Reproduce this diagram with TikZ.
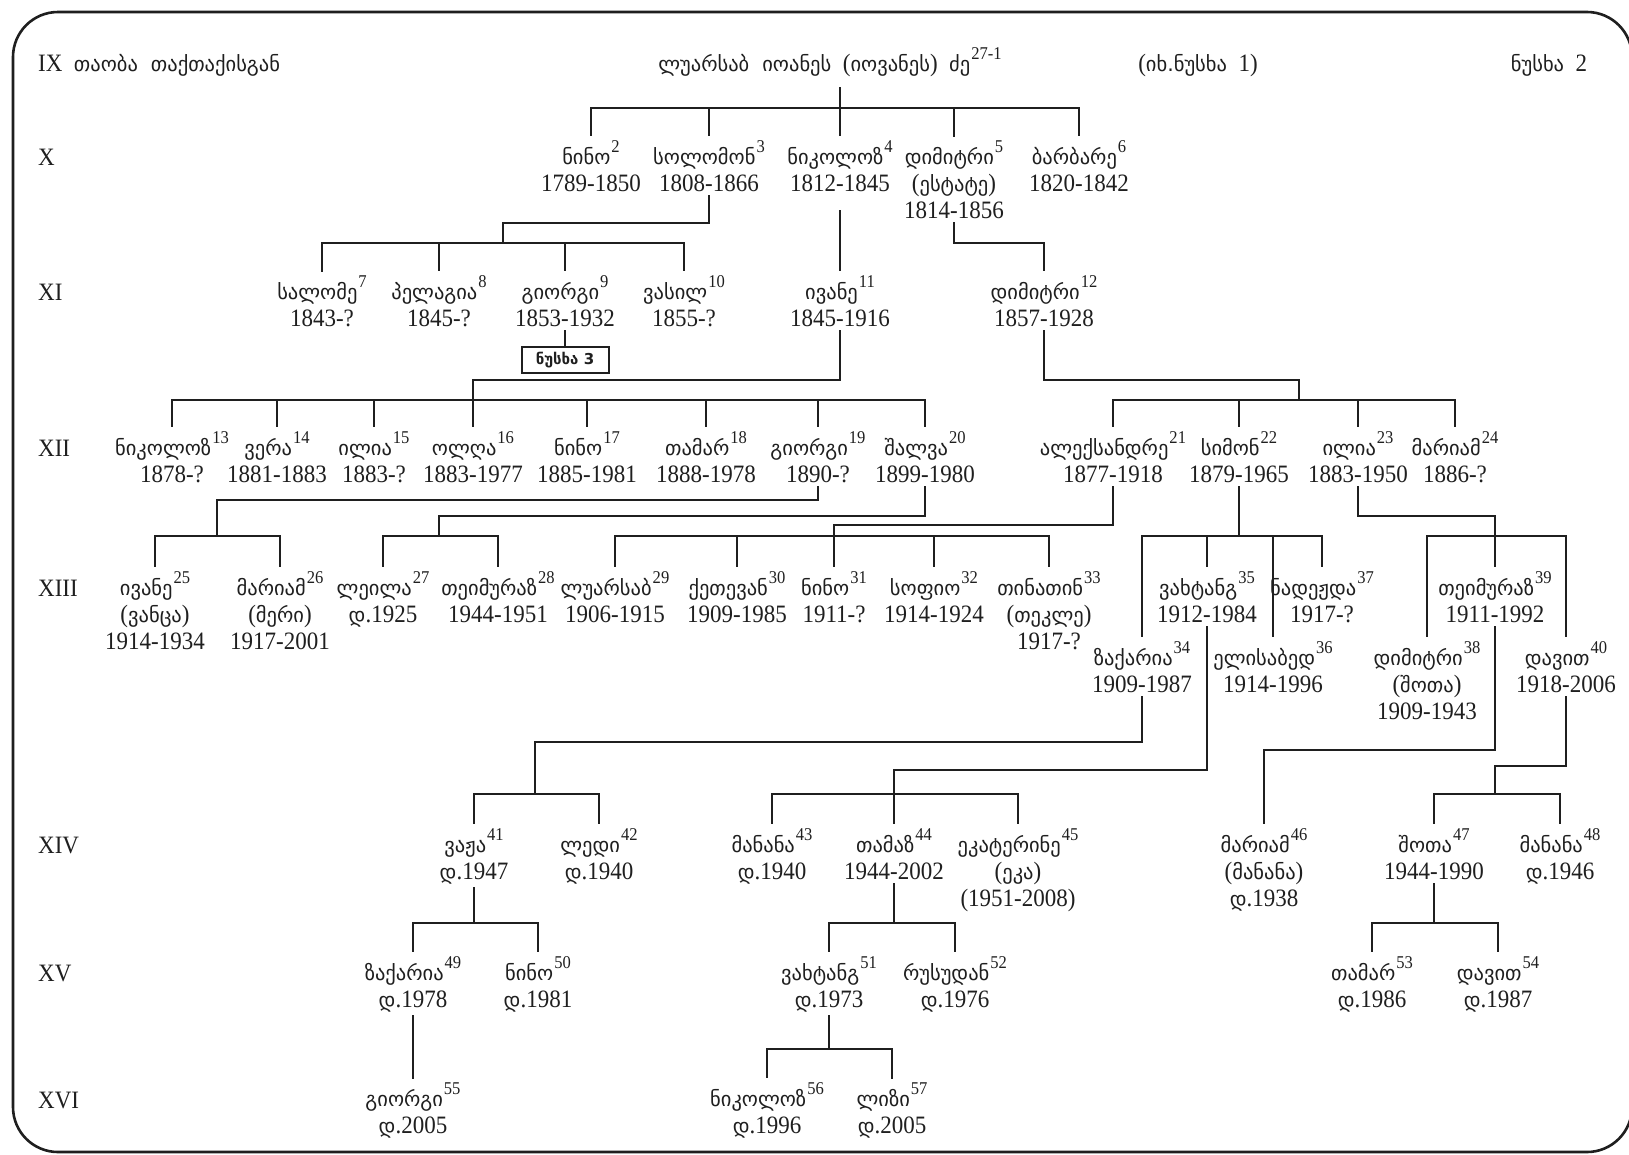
\documentclass[tikz,border=0pt]{standalone}
\usepackage{fontspec}
\setmainfont{Liberation Serif}[FakeStretch=0.92]
\newfontfamily\geo{DejaVu Sans}
\newcommand\g[1]{{\geo\fontsize{20.5}{27}\selectfont #1}}
\newcommand\supn[1]{\kern1pt\raisebox{12pt}{\fontsize{18}{18}\selectfont #1}}
\newcommand\nm[2]{\g{#1}\supn{#2}}
\newcommand\pers[1]{\vtop{\baselineskip=27pt\lineskiplimit=-40pt\halign{\hfil##\hfil\cr#1\cr}}}
\begin{document}
\begin{tikzpicture}[x=1pt,y=-1pt,
  ln/.style={line width=2.6pt,line cap=rect,color=black!88},
  P/.style={inner sep=0pt,outer ysep=5pt,anchor=base,font=\fontsize{25}{27}\selectfont,text=black!88},
  G/.style={inner sep=0pt,anchor=base west,font=\fontsize{25}{27}\selectfont,text=black!88},
  H/.style={inner sep=0pt,anchor=base,font=\fontsize{25}{27}\selectfont,text=black!88}]
\useasboundingbox (0,0) rectangle (1629,1154);
\fill[white] (0,0) rectangle (1629,1154);
\draw[line width=2.6pt,color=black!88,rounded corners=45pt] (13,12) rectangle (1632,1152);

% header
\node[G] (gIX) at (38,71) {IX\ \ \g{თაობა\ \ თაქთაქისგან}};
\node[H] (title) at (830,71) {\g{ლუარსაბ\ \ იოანეს}\ \ (\g{იოვანეს})\ \ \g{ძე}\supn{27-1}};
\node[H] (ref1) at (1198,71) {(\g{იხ.ნუსხა}\ \ 1)};
\node[H] (list2) at (1549,71) {\g{ნუსხა}\ \ 2};

% generation labels
\node[G] (gX) at (38,165) {X};
\node[G] (gXI) at (38,300) {XI};
\node[G] (gXII) at (38,456) {XII};
\node[G] (gXIII) at (38,596) {XIII};
\node[G] (gXIV) at (38,853) {XIV};
\node[G] (gXV) at (38,981) {XV};
\node[G] (gXVI) at (38,1108) {XVI};

% row X
\node[P] (n2) at (591,164) {\pers{\nm{ნინო}{2}\cr 1789-1850}};
\node[P] (n3) at (709,164) {\pers{\nm{სოლომონ}{3}\cr 1808-1866}};
\node[P] (n4) at (840,164) {\pers{\nm{ნიკოლოზ}{4}\cr 1812-1845}};
\node[P] (n5) at (954,164) {\pers{\nm{დიმიტრი}{5}\cr (\g{ესტატე})\cr 1814-1856}};
\node[P] (n6) at (1079,164) {\pers{\nm{ბარბარე}{6}\cr 1820-1842}};

% row XI
\node[P] (n7) at (322,299) {\pers{\nm{სალომე}{7}\cr 1843-?}};
\node[P] (n8) at (439,299) {\pers{\nm{პელაგია}{8}\cr 1845-?}};
\node[P] (n9) at (565,299) {\pers{\nm{გიორგი}{9}\cr 1853-1932}};
\node[P] (n10) at (684,299) {\pers{\nm{ვასილ}{10}\cr 1855-?}};
\node[P] (n11) at (840,299) {\pers{\nm{ივანე}{11}\cr 1845-1916}};
\node[P] (n12) at (1044,299) {\pers{\nm{დიმიტრი}{12}\cr 1857-1928}};
\node[draw,line width=2pt,color=black!88,inner sep=0pt,minimum width=87pt,minimum height=26pt] (box) at (565,360) {\geo\bfseries\fontsize{15}{15}\selectfont ნუსხა 3};

% row XII
\node[P] (n13) at (172,455) {\pers{\nm{ნიკოლოზ}{13}\cr 1878-?}};
\node[P] (n14) at (277,455) {\pers{\nm{ვერა}{14}\cr 1881-1883}};
\node[P] (n15) at (374,455) {\pers{\nm{ილია}{15}\cr 1883-?}};
\node[P] (n16) at (473,455) {\pers{\nm{ოლღა}{16}\cr 1883-1977}};
\node[P] (n17) at (587,455) {\pers{\nm{ნინო}{17}\cr 1885-1981}};
\node[P] (n18) at (706,455) {\pers{\nm{თამარ}{18}\cr 1888-1978}};
\node[P] (n19) at (818,455) {\pers{\nm{გიორგი}{19}\cr 1890-?}};
\node[P] (n20) at (925,455) {\pers{\nm{შალვა}{20}\cr 1899-1980}};
\node[P] (n21) at (1113,455) {\pers{\nm{ალექსანდრე}{21}\cr 1877-1918}};
\node[P] (n22) at (1239,455) {\pers{\nm{სიმონ}{22}\cr 1879-1965}};
\node[P] (n23) at (1358,455) {\pers{\nm{ილია}{23}\cr 1883-1950}};
\node[P] (n24) at (1455,455) {\pers{\nm{მარიამ}{24}\cr 1886-?}};

% row XIII
\node[P] (n25) at (155,595) {\pers{\nm{ივანე}{25}\cr (\g{ვანცა})\cr 1914-1934}};
\node[P] (n26) at (280,595) {\pers{\nm{მარიამ}{26}\cr (\g{მერი})\cr 1917-2001}};
\node[P] (n27) at (383,595) {\pers{\nm{ლეილა}{27}\cr \g{დ}.1925}};
\node[P] (n28) at (498,595) {\pers{\nm{თეიმურაზ}{28}\cr 1944-1951}};
\node[P] (n29) at (615,595) {\pers{\nm{ლუარსაბ}{29}\cr 1906-1915}};
\node[P] (n30) at (737,595) {\pers{\nm{ქეთევან}{30}\cr 1909-1985}};
\node[P] (n31) at (834,595) {\pers{\nm{ნინო}{31}\cr 1911-?}};
\node[P] (n32) at (934,595) {\pers{\nm{სოფიო}{32}\cr 1914-1924}};
\node[P] (n33) at (1049,595) {\pers{\nm{თინათინ}{33}\cr (\g{თეკლე})\cr 1917-?}};
\node[P] (n35) at (1207,595) {\pers{\nm{ვახტანგ}{35}\cr 1912-1984}};
\node[P] (n37) at (1322,595) {\pers{\nm{ნადეჟდა}{37}\cr 1917-?}};
\node[P] (n39) at (1495,595) {\pers{\nm{თეიმურაზ}{39}\cr 1911-1992}};
\node[P] (n34) at (1142,665) {\pers{\nm{ზაქარია}{34}\cr 1909-1987}};
\node[P] (n36) at (1273,665) {\pers{\nm{ელისაბედ}{36}\cr 1914-1996}};
\node[P] (n38) at (1427,665) {\pers{\nm{დიმიტრი}{38}\cr (\g{შოთა})\cr 1909-1943}};
\node[P] (n40) at (1566,665) {\pers{\nm{დავით}{40}\cr 1918-2006}};

% row XIV
\node[P] (n41) at (474,852) {\pers{\nm{ვაჟა}{41}\cr \g{დ}.1947}};
\node[P] (n42) at (599,852) {\pers{\nm{ლედი}{42}\cr \g{დ}.1940}};
\node[P] (n43) at (772,852) {\pers{\nm{მანანა}{43}\cr \g{დ}.1940}};
\node[P] (n44) at (894,852) {\pers{\nm{თამაზ}{44}\cr 1944-2002}};
\node[P] (n45) at (1018,852) {\pers{\nm{ეკატერინე}{45}\cr (\g{ეკა})\cr (1951-2008)}};
\node[P] (n46) at (1264,852) {\pers{\nm{მარიამ}{46}\cr (\g{მანანა})\cr \g{დ}.1938}};
\node[P] (n47) at (1434,852) {\pers{\nm{შოთა}{47}\cr 1944-1990}};
\node[P] (n48) at (1560,852) {\pers{\nm{მანანა}{48}\cr \g{დ}.1946}};

% row XV
\node[P] (n49) at (413,980) {\pers{\nm{ზაქარია}{49}\cr \g{დ}.1978}};
\node[P] (n50) at (538,980) {\pers{\nm{ნინო}{50}\cr \g{დ}.1981}};
\node[P] (n51) at (829,980) {\pers{\nm{ვახტანგ}{51}\cr \g{დ}.1973}};
\node[P] (n52) at (955,980) {\pers{\nm{რუსუდან}{52}\cr \g{დ}.1976}};
\node[P] (n53) at (1372,980) {\pers{\nm{თამარ}{53}\cr \g{დ}.1986}};
\node[P] (n54) at (1498,980) {\pers{\nm{დავით}{54}\cr \g{დ}.1987}};

% row XVI
\node[P] (n55) at (413,1106) {\pers{\nm{გიორგი}{55}\cr \g{დ}.2005}};
\node[P] (n56) at (767,1106) {\pers{\nm{ნიკოლოზ}{56}\cr \g{დ}.1996}};
\node[P] (n57) at (892,1106) {\pers{\nm{ლიზი}{57}\cr \g{დ}.2005}};

% ---------- connectors ----------
\coordinate (yA) at (0,108);
\coordinate (yB) at (0,243);
\coordinate (yC) at (0,400);
\coordinate (yD) at (0,536);
\coordinate (yE) at (0,794);
\coordinate (yF) at (0,923);
\coordinate (yG) at (0,1049);

% root
\path (title.base) ++(0,17) coordinate (rt);
\draw[ln] (rt -| n4.north) -- (n4.north);
\draw[ln] (n2.north) -- (n2.north |- yA) -- (n6.north |- yA) -- (n6.north);
\foreach \c in {n3,n5} \draw[ln] (\c.north) -- (\c.north |- yA);

% solomon
\coordinate (j3) at (503,223);
\draw[ln] (n3.south) |- (j3) -- (j3 |- yB);
\draw[ln] (n7.north) -- (n7.north |- yB) -- (n10.north |- yB) -- (n10.north);
\foreach \c in {n8,n9} \draw[ln] (\c.north) -- (\c.north |- yB);
% nikoloz
\path (n4.south) ++(0,15) coordinate (n4s);
\draw[ln] (n4s) -- (n11.north);
% dimitri 5
\draw[ln] (n5.south) |- (n12.north |- yB) -- (n12.north);
% giorgi 9 -> list 3
\draw[ln] (n9.south) -- (box.north);

% ivane 11
\coordinate (j11) at (473,380);
\draw[ln] (n11.south) |- (j11) -- (j11 |- yC);
\draw[ln] (n13.north) -- (n13.north |- yC) -- (n20.north |- yC) -- (n20.north);
\foreach \c in {n14,n15,n16,n17,n18,n19} \draw[ln] (\c.north) -- (\c.north |- yC);
% dimitri 12
\coordinate (j12) at (1299,380);
\draw[ln] (n12.south) |- (j12) -- (j12 |- yC);
\draw[ln] (n21.north) -- (n21.north |- yC) -- (n24.north |- yC) -- (n24.north);
\foreach \c in {n22,n23} \draw[ln] (\c.north) -- (\c.north |- yC);

% giorgi 19
\coordinate (j19) at (217,500);
\draw[ln] (n19.south) |- (j19) -- (j19 |- yD);
\draw[ln] (n25.north) -- (n25.north |- yD) -- (n26.north |- yD) -- (n26.north);
% shalva 20
\coordinate (j20) at (439,516);
\draw[ln] (n20.south) |- (j20) -- (j20 |- yD);
\draw[ln] (n27.north) -- (n27.north |- yD) -- (n28.north |- yD) -- (n28.north);
% aleksandre 21
\coordinate (j21) at (834,525);
\draw[ln] (n21.south) |- (j21) -- (j21 |- yD);
\draw[ln] (n29.north) -- (n29.north |- yD) -- (n33.north |- yD) -- (n33.north);
\foreach \c in {n30,n31,n32} \draw[ln] (\c.north) -- (\c.north |- yD);
% simon 22
\draw[ln] (n22.south) -- (n22.south |- yD);
\draw[ln] (n34.north) -- (n34.north |- yD) -- (n37.north |- yD) -- (n37.north);
\foreach \c in {n35,n36} \draw[ln] (\c.north) -- (\c.north |- yD);
% ilia 23
\coordinate (j23) at (1495,516);
\draw[ln] (n23.south) |- (j23) -- (j23 |- yD);
\draw[ln] (n38.north) -- (n38.north |- yD) -- (n40.north |- yD) -- (n40.north);
\draw[ln] (n39.north) -- (n39.north |- yD);

% zakaria 34
\coordinate (j34) at (535,742);
\draw[ln] (n34.south) |- (j34) -- (j34 |- yE);
\draw[ln] (n41.north) -- (n41.north |- yE) -- (n42.north |- yE) -- (n42.north);
% vakhtang 35
\coordinate (j35) at (894,770);
\draw[ln] (n35.south) |- (j35) -- (j35 |- yE);
\draw[ln] (n43.north) -- (n43.north |- yE) -- (n45.north |- yE) -- (n45.north);
\draw[ln] (n44.north) -- (n44.north |- yE);
% teimuraz 39
\coordinate (j39) at (0,750);
\draw[ln] (n39.south) |- (n46.north |- j39) -- (n46.north);
% davit 40
\coordinate (j40) at (1495,766);
\draw[ln] (n40.south) |- (j40) -- (j40 |- yE);
\draw[ln] (n47.north) -- (n47.north |- yE) -- (n48.north |- yE) -- (n48.north);

% XIV -> XV
\draw[ln] (n41.south) -- (n41.south |- yF);
\draw[ln] (n49.north) -- (n49.north |- yF) -- (n50.north |- yF) -- (n50.north);
\draw[ln] (n44.south) -- (n44.south |- yF);
\draw[ln] (n51.north) -- (n51.north |- yF) -- (n52.north |- yF) -- (n52.north);
\draw[ln] (n47.south) -- (n47.south |- yF);
\draw[ln] (n53.north) -- (n53.north |- yF) -- (n54.north |- yF) -- (n54.north);

% XV -> XVI
\draw[ln] (n49.south) -- (n55.north);
\draw[ln] (n51.south) -- (n51.south |- yG);
\draw[ln] (n56.north) -- (n56.north |- yG) -- (n57.north |- yG) -- (n57.north);
\end{tikzpicture}
\end{document}
